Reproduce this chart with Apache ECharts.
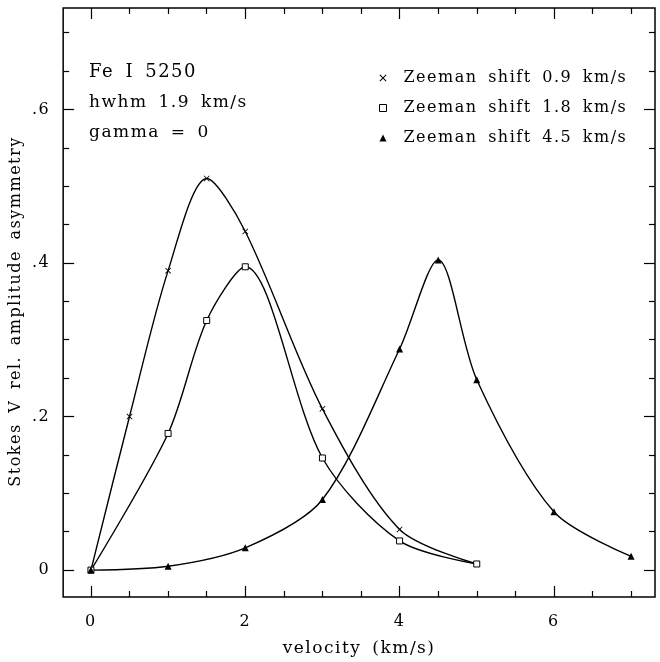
<!DOCTYPE html>
<html>
<head>
<meta charset="utf-8">
<script src="https://cdn.jsdelivr.net/npm/echarts@6/dist/echarts.min.js"></script>
<style>
    html, body { margin: 0; padding: 0; background: #fff; }
    #chart { width: 660px; height: 662px; }
</style>
</head>
<body>
<div id="chart"></div>
<script>
    // data
    const seriesNames = ['Zeeman shift 0.9 km/s', 'Zeeman shift 1.8 km/s', 'Zeeman shift 4.5 km/s']
    const vel1 = [0, 0.5, 1, 1.5, 2, 3, 4, 5]
    const amp1 = [0, 0.2, 0.39, 0.51, 0.441, 0.21, 0.053, 0.008]
    const vel2 = [0, 1, 1.5, 2, 3, 4, 5]
    const amp2 = [0, 0.178, 0.325, 0.395, 0.146, 0.038, 0.008]
    const vel3 = [0, 1, 2, 3, 4, 4.5, 5, 6, 7]
    const amp3 = [0, 0.005, 0.029, 0.092, 0.288, 0.404, 0.248, 0.076, 0.018]
    const xMajor = [0, 2, 4, 6]
    const xMinor = [0.5, 1, 1.5, 2.5, 3, 3.5, 4.5, 5, 5.5, 6.5, 7]
    const yMajor = [0, 0.2, 0.4, 0.6]
    const yMinor = [0.05, 0.1, 0.15, 0.25, 0.3, 0.35, 0.45, 0.5, 0.55, 0.65, 0.7]
    const notes = ['Fe I 5250', 'hwhm 1.9 km/s', 'gamma = 0']

    const FONT = 'DejaVu Serif'
    const X_MIN = -0.36, X_MAX = 7.31
    const Y_MIN = -0.035, Y_MAX = 0.732
    // cross marker as a filled outline
    const CROSS = 'path://M1,0L5,4L9,0L10,1L6,5L10,9L9,10L5,6L1,10L0,9L4,5L0,1Z'

    function xAxisOf(pos, vals, len, withLabel) {
        const ax = {
            type: 'value', position: pos, min: X_MIN, max: X_MAX,
            axisLine: { show: false, onZero: false }, splitLine: { show: false },
            axisTick: { show: true, inside: true, length: len, customValues: vals, lineStyle: { color: '#000', width: 1.2 } },
            axisLabel: { show: false }
        }
        if (withLabel) {
            ax.axisLabel = { show: true, customValues: vals, margin: 17, color: '#000', fontFamily: FONT, fontSize: 16 }
            ax.name = 'velocity (km/s)'
            ax.nameLocation = 'middle'
            ax.nameGap = 43
            ax.nameTextStyle = { color: '#000', fontFamily: FONT, fontSize: 17 }
        }
        return ax
    }
    function yAxisOf(pos, vals, len, withLabel) {
        const ax = {
            type: 'value', position: pos, min: Y_MIN, max: Y_MAX,
            axisLine: { show: false, onZero: false }, splitLine: { show: false },
            axisTick: { show: true, inside: true, length: len, customValues: vals, lineStyle: { color: '#000', width: 1.2 } },
            axisLabel: { show: false }
        }
        if (withLabel) {
            ax.axisLabel = {
                show: true, customValues: vals, margin: 13, color: '#000', fontFamily: FONT, fontSize: 16,
                formatter: v => v === 0 ? '0' : String(+v.toFixed(1)).replace('0.', '.')
            }
            ax.name = 'Stokes V rel. amplitude asymmetry'
            ax.nameLocation = 'middle'
            ax.nameGap = 36
            ax.nameTextStyle = { color: '#000', fontFamily: FONT, fontSize: 16, padding: [0, 18, 0, 0] }
        }
        return ax
    }

    function pairs(xs, ys) {
        return xs.map((x, i) => [x, ys[i]])
    }

    const myChart = echarts.init(document.getElementById('chart'), null, { renderer: 'canvas' })

    const option = {
        animation: false,
        grid: { left: 63, right: 5, top: 8, bottom: 65, show: true, borderColor: '#000', borderWidth: 1.5 },
        xAxis: [
            xAxisOf('bottom', xMajor, 11, true),
            xAxisOf('bottom', xMinor, 6, false),
            xAxisOf('top', xMajor, 11, false),
            xAxisOf('top', xMinor, 6, false)
        ],
        yAxis: [
            yAxisOf('left', yMajor, 11, true),
            yAxisOf('left', yMinor, 6, false),
            yAxisOf('right', yMajor, 11, false),
            yAxisOf('right', yMinor, 6, false)
        ],
        legend: {
            orient: 'vertical',
            left: 374,
            top: 63,
            itemWidth: 7,
            itemHeight: 7,
            itemGap: 10,
            textStyle: { color: '#000', fontFamily: FONT, fontSize: 16, lineHeight: 20, padding: [0, 0, 0, 12] },
            data: [
                { name: seriesNames[0], icon: CROSS, itemStyle: { color: '#000', borderWidth: 0 } },
                { name: seriesNames[1], icon: 'rect', itemStyle: { color: '#fff', borderColor: '#000', borderWidth: 1 } },
                { name: seriesNames[2], icon: 'triangle', itemStyle: { color: '#000', borderWidth: 0 } }
            ]
        },
        graphic: notes.map((t, i) => ({
            type: 'text',
            left: 89,
            top: [63, 94, 124][i],
            style: { text: t, fill: '#000', fontFamily: FONT, fontSize: i === 0 ? 18 : 17 }
        })),
        series: [
            {
                name: seriesNames[0], type: 'line', smooth: 0.3,
                data: pairs(vel1, amp1),
                symbol: CROSS, symbolSize: 6,
                lineStyle: { color: '#000', width: 1.4 },
                itemStyle: { color: '#000', borderWidth: 0 }
            },
            {
                name: seriesNames[1], type: 'line', smooth: 0.3,
                data: pairs(vel2, amp2),
                symbol: 'rect', symbolSize: 6,
                lineStyle: { color: '#000', width: 1.4 },
                itemStyle: { color: '#fff', borderColor: '#000', borderWidth: 1 }
            },
            {
                name: seriesNames[2], type: 'line', smooth: 0.3,
                data: pairs(vel3, amp3),
                symbol: 'triangle', symbolSize: 7,
                lineStyle: { color: '#000', width: 1.4 },
                itemStyle: { color: '#000', borderWidth: 0 }
            }
        ]
    }
    myChart.setOption(option)

    // the old plotter font is wide and loosely spaced: widen the canvas text, then redraw
    document.querySelectorAll('#chart canvas').forEach(c => {
        const ctx = c.getContext('2d')
        ctx.letterSpacing = '1.5px'
        ctx.wordSpacing = '4px'
    })
    myChart.setOption(option, true)
</script>
</body>
</html>
